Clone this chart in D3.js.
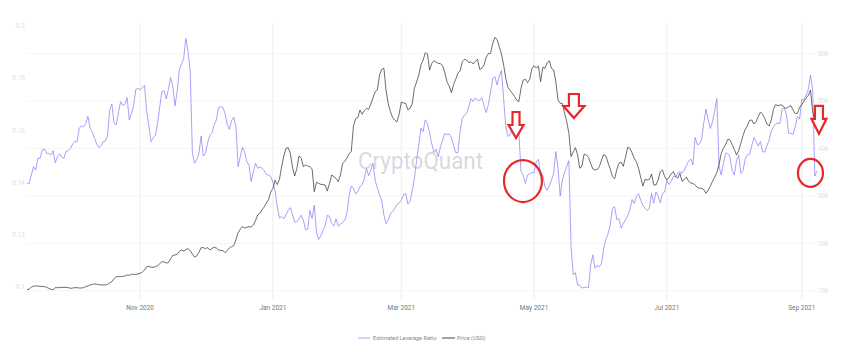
<!DOCTYPE html>
<html><head><meta charset="utf-8">
<script src="https://cdn.jsdelivr.net/npm/d3@7"></script>
<style>html,body{margin:0;padding:0;background:#fff;} svg{display:block;font-family:Roboto,"Open Sans",sans-serif;}</style>
</head><body><svg id="chart" width="853" height="360"></svg>
<script>
// ---- data (daily, starting at startDate) ----
const startDate = "2020-09-10";
const seriesNames = ["Estimated Leverage Ratio", "Price (USD)"];
const leverageRatio = [
0.1395,0.1397,0.1429,0.1461,0.1448,0.1493,0.1493,0.1525,0.1529,0.1512,
0.1512,0.1506,0.1522,0.1476,0.1499,0.1510,0.1498,0.1493,0.1521,0.1522,
0.1530,0.1549,0.1557,0.1557,0.1608,0.1617,0.1614,0.1626,0.1654,0.1608,
0.1595,0.1570,0.1549,0.1534,0.1540,0.1556,0.1559,0.1579,0.1678,0.1701,
0.1627,0.1621,0.1667,0.1710,0.1696,0.1700,0.1725,0.1640,0.1665,0.1696,
0.1757,0.1761,0.1756,0.1764,0.1773,0.1672,0.1617,0.1557,0.1572,0.1582,
0.1627,0.1691,0.1750,0.1752,0.1720,0.1759,0.1803,0.1768,0.1694,0.1748,
0.1831,0.1856,0.1876,
0.1953,0.1902,0.1825,0.1512,0.1474,0.1489,0.1512,0.1579,0.1502,0.1512,
0.1553,0.1581,0.1591,0.1621,0.1640,0.1687,0.1690,0.1688,0.1665,0.1621,
0.1604,0.1637,0.1651,0.1614,0.1461,0.1499,0.1535,0.1517,0.1480,0.1468,
0.1404,0.1442,0.1474,0.1455,0.1460,0.1455,0.1446,0.1430,0.1429,0.1423,
0.1401,0.1369,0.1308,0.1264,0.1270,0.1261,0.1277,0.1294,0.1304,0.1278,
0.1248,0.1250,0.1262,0.1275,0.1256,0.1219,0.1222,0.1293,0.1263,0.1314,
0.1212,0.1182,0.1196,0.1216,0.1234,0.1275,0.1270,0.1243,0.1235,0.1261,
0.1233,0.1240,0.1247,0.1256,0.1282,0.1350,
0.1387,0.1378,0.1356,0.1365,0.1384,0.1392,0.1416,0.1453,0.1427,0.1448,
0.1474,0.1408,0.1379,0.1353,0.1331,0.1276,0.1242,0.1257,0.1282,0.1289,
0.1301,0.1316,0.1322,0.1332,0.1354,0.1359,0.1318,0.1327,0.1369,0.1416,
0.1484,0.1543,0.1608,0.1595,0.1640,0.1625,0.1591,0.1548,0.1515,0.1528,
0.1499,0.1538,0.1563,0.1588,0.1584,0.1586,0.1572,0.1542,0.1515,0.1515,
0.1595,0.1646,0.1659,0.1665,0.1691,0.1722,0.1711,0.1724,0.1717,0.1715,
0.1725,0.1694,0.1668,0.1699,0.1747,0.1800,0.1806,0.1774,0.1806,0.1830,
0.1723,0.1612,0.1577,0.1582,0.1604,0.1589,
0.1586,0.1595,0.1442,0.1429,0.1397,0.1429,0.1433,0.1439,0.1438,0.1480,
0.1489,0.1429,0.1429,0.1384,0.1370,0.1387,0.1410,0.1436,0.1519,0.1455,
0.1349,0.1410,0.1438,0.1462,0.1484,0.1155,0.1046,0.1055,0.1008,0.1007,
0.0996,0.0998,0.1000,0.0996,0.1084,0.1123,0.1072,0.1082,0.1078,0.1090,
0.1148,0.1183,0.1204,0.1238,0.1302,0.1308,0.1259,0.1261,0.1226,0.1244,
0.1257,0.1273,0.1294,0.1335,0.1321,0.1346,0.1357,0.1333,0.1312,0.1302,
0.1293,0.1303,0.1358,0.1321,0.1364,0.1349,0.1323,0.1359,0.1364,0.1408,
0.1393,0.1405,0.1423,0.1423,0.1436,0.1442,
0.1436,0.1448,0.1466,0.1482,0.1491,0.1468,0.1573,0.1545,0.1548,0.1566,
0.1630,0.1682,0.1640,0.1607,0.1633,0.1676,0.1722,0.1461,0.1429,0.1474,
0.1512,0.1512,0.1498,0.1448,0.1429,0.1484,0.1506,0.1436,0.1446,0.1489,
0.1506,0.1508,0.1540,0.1572,0.1557,0.1540,0.1557,0.1519,0.1517,0.1542,
0.1563,0.1598,0.1614,0.1625,0.1628,0.1627,0.1681,0.1686,0.1659,0.1589,
0.1589,0.1584,0.1614,0.1653,0.1644,0.1718,0.1719,0.1734,0.1756,0.1812,
0.1755,0.1425,0.1446
];
const priceUSD = [
10290,10290,10780,10930,11000,11000,10930,10860,10860,10710,
10500,10290,10220,10640,10640,10640,10710,10710,10710,10640,
10500,10570,10640,10640,10570,10570,10640,10860,11000,11210,
11350,11420,11350,11280,11210,11210,11210,11350,11630,11910,
12540,12960,12960,12960,13030,13100,13310,13240,13460,13460,
13460,13530,13670,13950,14370,15070,15140,14930,14930,15070,
15280,15710,16130,16060,15850,15920,16760,17460,17530,17670,
18310,18590,18380,
18660,18870,18450,17740,17110,17320,18100,19080,19080,18870,
19080,18590,18940,19150,19010,18590,18520,18450,18030,18450,
19010,19290,19500,20700,22250,22950,23510,23230,23370,23510,
23440,23860,24780,25970,26320,27100,27660,28500,29210,30830,
31600,33290,32370,33500,36170,38420,40040,40180,38980,36030,
34200,35820,38420,37930,36170,36520,36310,36170,35680,30900,
32860,32650,32440,32370,32300,31040,32650,34410,34060,33710,
33000,34340,36870,37290,37990,38910,
39330,44750,46300,46510,48120,47210,47980,48480,48270,49390,
50730,51990,52340,55510,56700,56910,52200,49390,47770,46510,
46010,45590,47280,49810,49600,49530,48190,48480,49390,52690,
54030,55440,57620,58600,60220,59940,56560,57970,58530,58180,
57970,57900,57410,56000,54030,53190,51780,53470,54590,55930,
56350,58320,58810,58670,58110,58320,57830,58390,58810,56700,
56910,57620,59230,60010,60080,62190,63450,63030,61480,59940,
57620,54800,52830,52270,51640,51010,
50230,49880,52690,54450,54590,53890,54590,56840,57480,56980,
57410,54100,57120,56910,58110,58530,56910,56560,54100,50230,
49530,49530,47420,45660,43200,38280,39330,40180,38630,35820,
36310,38840,38630,38140,36870,35680,35470,35540,36170,37580,
38700,38420,36940,35680,34060,33640,35470,36870,37150,36240,
38140,40250,40040,39120,37930,37220,35820,33920,32090,33500,
33360,33500,34620,32300,32300,33360,35110,35470,34060,33360,
33920,34620,35110,34060,33780,34760,
33070,33430,33990,33070,32720,32650,32300,31810,31600,31600,
31320,30540,31250,32090,33070,33990,34900,36660,38980,40040,
40810,41940,41800,40880,39830,38630,39540,41090,42710,44040,
44750,45940,46010,45170,45660,46720,47700,47210,46300,45170,
44750,46010,48270,49250,49040,49180,49180,48620,48480,48830,
49040,48120,47350,47420,48690,49250,50020,50660,51220,52340,
47770,46010
];
const ratioTicks = [0.1, 0.12, 0.14, 0.16, 0.18, 0.2];
const priceTicks = [10000, 20000, 30000, 40000, 50000, 60000];
const watermarkText = "CryptoQuant";
// annotation anchors (day index from start, value on an axis)
const arrowAnchors = [{day: 224.7, price: 47700}, {day: 251.3, price: 51500}, {day: 363.9, price: 49000}];
const circleAnchors = [{day: 227.9, ratio: 0.1406}, {day: 360.0, ratio: 0.1437}];

// ---- layout / styles ----
const arrowSizes = [{sw: 3.5, hy: 13, hw: 7.5, len: 26}, {sw: 5, hy: 12, hw: 10.5, len: 24}, {sw: 4, hy: 13, hw: 7.5, len: 28}];
const circleSizes = [{rx: 19, ry: 21}, {rx: 12.5, ry: 14}];
const C = {lev: "#8479f7", price: "#2e2e2e", red: "#e8262b"};

const svg = d3.select("#chart");
svg.append("rect").attr("width", 853).attr("height", 360).attr("fill", "#fff");

const t0 = d3.timeParse("%Y-%m-%d")(startDate);
const dateAt = i => d3.timeDay.offset(t0, i);
const dayDate = d => new Date(t0.getTime() + d * 86400000);
const lastDay = Math.max(leverageRatio.length, priceUSD.length) - 1;

const x = d3.scaleTime().domain([t0, dateAt(lastDay)]).range([27, 817]);
const yL = d3.scaleLinear().domain([0.1, 0.2]).range([287, 26]);
const yR = d3.scaleLinear().domain([10000, 60000]).range([290.7, 53.7]);

const xTicks = x.ticks(d3.timeMonth.every(2));
const fmt = d3.timeFormat("%b %Y");

// grid
const g = svg.append("g");
g.selectAll(".vg").data(xTicks).join("line")
  .attr("x1", d => x(d)).attr("x2", d => x(d)).attr("y1", 23).attr("y2", 300)
  .attr("stroke", "#ededed").attr("stroke-width", 1);
g.selectAll(".hg").data(priceTicks).join("line")
  .attr("x1", 27).attr("x2", 817).attr("y1", d => yR(d)).attr("y2", d => yR(d))
  .attr("stroke", "#f5f5f5").attr("stroke-width", 1);

// axis labels
svg.append("g").selectAll("text").data(xTicks).join("text")
  .attr("x", d => x(d)).attr("y", 309.5).attr("text-anchor", "middle")
  .attr("font-size", 6.5).attr("fill", "#777").text(d => fmt(d));
svg.append("g").selectAll("text").data(ratioTicks).join("text")
  .attr("x", 25).attr("y", d => yL(d)).attr("dy", "0.35em").attr("text-anchor", "end")
  .attr("font-size", 6.5).attr("fill", "#e0e0e0").text(d => d3.format("~g")(d));
svg.append("g").selectAll("text").data(priceTicks).join("text")
  .attr("x", 818).attr("y", d => yR(d)).attr("dy", "0.35em").attr("text-anchor", "start")
  .attr("font-size", 6.5).attr("fill", "#e0e0e0").text(d => (d / 1000) + "k");

// watermark
svg.append("text").attr("x", 358).attr("y", 169).attr("font-size", 23)
  .attr("textLength", 125).attr("lengthAdjust", "spacingAndGlyphs")
  .attr("fill", "#cfcfd8").attr("fill-opacity", 0.8).attr("font-family", "Roboto, sans-serif")
  .text(watermarkText);

// lines
const levLine = d3.line().x((d, i) => x(dateAt(i))).y(d => yL(d));
const priceLine = d3.line().x((d, i) => x(dateAt(i))).y(d => yR(d));
svg.append("path").datum(leverageRatio).attr("d", levLine)
  .attr("fill", "none").attr("stroke", C.lev).attr("stroke-width", 0.7).attr("stroke-linejoin", "round");
svg.append("path").datum(priceUSD).attr("d", priceLine)
  .attr("fill", "none").attr("stroke", C.price).attr("stroke-width", 0.7).attr("stroke-linejoin", "round");

// legend
const lg = svg.append("g").attr("font-size", 5.6).attr("fill", "#888");
lg.append("line").attr("x1", 358).attr("x2", 370).attr("y1", 338).attr("y2", 338).attr("stroke", "#b9b2fb").attr("stroke-width", 1.2);
lg.append("text").attr("x", 373).attr("y", 338).attr("dy", "0.35em").text(seriesNames[0]);
lg.append("line").attr("x1", 442).attr("x2", 455).attr("y1", 338).attr("y2", 338).attr("stroke", "#666").attr("stroke-width", 1.2);
lg.append("text").attr("x", 457).attr("y", 338).attr("dy", "0.35em").text(seriesNames[1]);

// annotations
const ann = svg.append("g");
arrowAnchors.forEach((a, i) => {
  const s = arrowSizes[i], cx = x(dayDate(a.day)), top = yR(a.price);
  const p = d3.path();
  p.moveTo(cx - s.sw, top); p.lineTo(cx + s.sw, top); p.lineTo(cx + s.sw, top + s.hy);
  p.lineTo(cx + s.hw, top + s.hy); p.lineTo(cx, top + s.len); p.lineTo(cx - s.hw, top + s.hy);
  p.lineTo(cx - s.sw, top + s.hy); p.closePath();
  ann.append("path").attr("d", p.toString()).attr("fill", "#fff").attr("stroke", C.red)
    .attr("stroke-width", 2.2).attr("stroke-linejoin", "miter");
});
circleAnchors.forEach((c, i) => {
  ann.append("ellipse").attr("cx", x(dayDate(c.day))).attr("cy", yL(c.ratio))
    .attr("rx", circleSizes[i].rx).attr("ry", circleSizes[i].ry)
    .attr("fill", "none").attr("stroke", C.red).attr("stroke-width", 2.2);
});
</script>
</body></html>
